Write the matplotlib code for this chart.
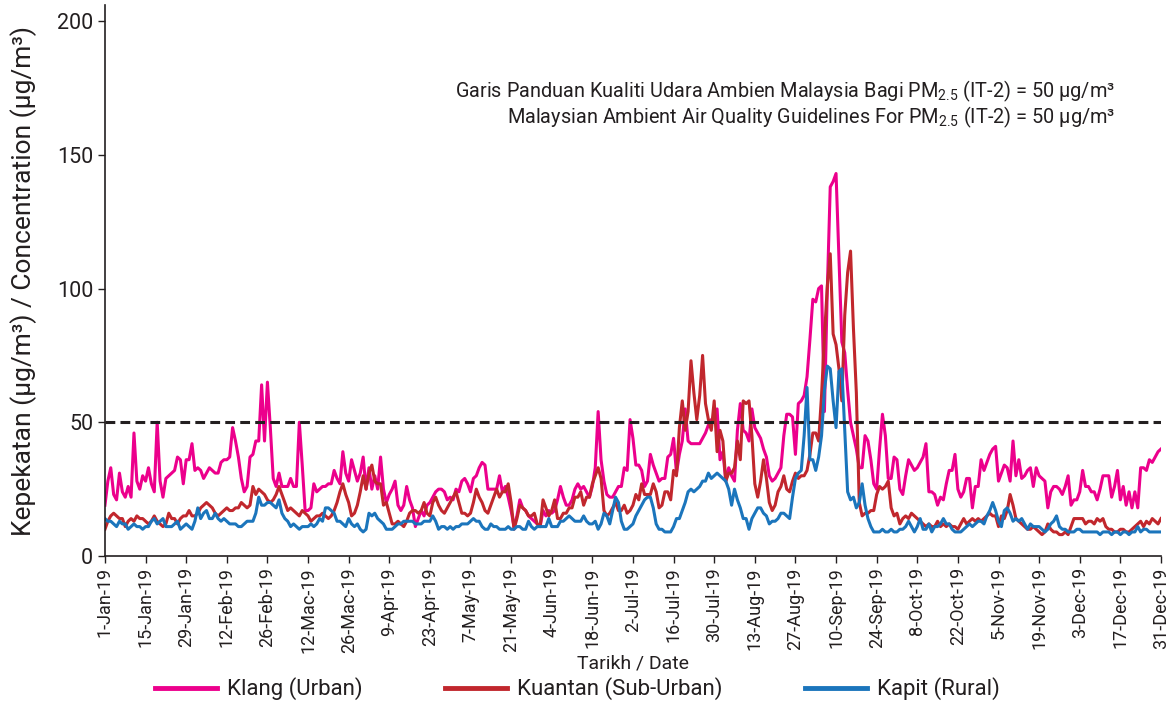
import numpy as np
import pandas as pd
import matplotlib
matplotlib.use("Agg")
import matplotlib.pyplot as plt
from matplotlib.lines import Line2D

plt.rcParams['font.family'] = ['Roboto', 'DejaVu Sans']
plt.rcParams['mathtext.fontset'] = 'custom'
plt.rcParams['mathtext.rm'] = 'Roboto'

# daily PM2.5, 1-Jan-19 .. 31-Dec-19
dates = pd.date_range('2019-01-01', '2019-12-31', freq='D')

klang = [
    19, 28, 33, 23, 21, 31, 24, 22, 26, 22,
    46, 28, 25, 30, 28, 33, 27, 24, 50, 28,
    22, 29, 30, 31, 32, 37, 36, 27, 36, 36,
    42, 32, 33, 32, 29, 31, 33, 32, 31, 31,
    35, 36, 36, 37, 48, 43, 37, 29, 24, 26,
    37, 38, 43, 43, 64, 43, 65, 48, 29, 26,
    31, 26, 26, 26, 29, 26, 26, 50, 34, 17,
    17, 18, 27, 24, 25, 26, 26, 27, 27, 32,
    29, 27, 39, 31, 28, 36, 32, 28, 31, 37,
    25, 33, 25, 30, 25, 37, 25, 20, 23, 25,
    28, 19, 17, 19, 26, 21, 18, 11, 14, 17,
    15, 19, 20, 22, 24, 25, 25, 24, 21, 22,
    21, 25, 24, 28, 29, 27, 24, 29, 30, 33,
    35, 34, 25, 25, 25, 25, 30, 24, 26, 22,
    17, 11, 15, 21, 18, 17, 15, 14, 13, 12,
    11, 17, 15, 17, 16, 17, 21, 26, 22, 19,
    19, 21, 25, 27, 25, 26, 24, 22, 26, 33,
    54, 36, 28, 23, 22, 22, 24, 26, 26, 33,
    32, 51, 44, 34, 34, 32, 26, 28, 38, 34,
    31, 28, 29, 29, 37, 38, 44, 31, 38, 43,
    55, 43, 42, 42, 42, 42, 44, 46, 49, 51,
    51, 55, 36, 39, 28, 33, 30, 28, 47, 57,
    47, 46, 43, 55, 48, 46, 44, 40, 37, 30,
    28, 29, 31, 33, 45, 53, 53, 52, 38, 57,
    58, 60, 67, 81, 96, 95, 100, 101, 54, 100,
    138, 140, 143, 111, 80, 76, 62, 50, 45, 40,
    33, 33, 45, 43, 36, 27, 25, 40, 53, 45,
    29, 29, 37, 36, 25, 23, 30, 36, 34, 32,
    33, 35, 37, 42, 24, 24, 23, 19, 22, 21,
    27, 32, 32, 38, 25, 22, 24, 29, 29, 18,
    26, 26, 36, 32, 35, 38, 40, 41, 28, 31,
    34, 33, 28, 43, 30, 36, 29, 30, 32, 33,
    26, 33, 30, 29, 28, 18, 24, 26, 26, 25,
    23, 26, 30, 19, 21, 21, 24, 32, 26, 26,
    24, 24, 21, 25, 30, 30, 30, 22, 26, 32,
    21, 26, 19, 24, 18, 24, 18, 33, 33, 32,
    36, 35, 37, 39, 40,
]

kuantan = [
    10, 13, 15, 16, 15, 14, 14, 11, 13, 14,
    13, 15, 14, 14, 13, 12, 13, 15, 13, 12,
    11, 12, 16, 14, 14, 12, 14, 15, 15, 17,
    15, 15, 16, 18, 19, 20, 19, 18, 16, 15,
    16, 17, 18, 17, 17, 18, 18, 20, 19, 18,
    19, 26, 23, 25, 24, 23, 21, 20, 21, 23,
    26, 23, 20, 17, 18, 17, 16, 15, 17, 16,
    15, 13, 14, 15, 15, 16, 15, 14, 15, 17,
    20, 24, 27, 23, 20, 15, 16, 19, 24, 30,
    25, 31, 34, 28, 27, 27, 19, 20, 16, 12,
    12, 13, 12, 11, 13, 16, 17, 17, 16, 17,
    20, 16, 15, 20, 22, 19, 17, 16, 18, 20,
    22, 24, 20, 16, 16, 15, 16, 20, 25, 22,
    20, 17, 16, 19, 22, 25, 22, 24, 24, 27,
    20, 10, 14, 19, 18, 17, 15, 15, 16, 12,
    11, 21, 18, 15, 17, 21, 14, 14, 16, 16,
    18, 18, 22, 22, 24, 19, 22, 22, 27, 30,
    33, 29, 17, 15, 16, 18, 20, 17, 17, 19,
    16, 17, 19, 23, 21, 27, 23, 23, 23, 27,
    24, 18, 19, 24, 24, 21, 32, 30, 48, 58,
    47, 54, 73, 61, 51, 60, 75, 57, 51, 47,
    58, 39, 47, 43, 28, 31, 31, 33, 43, 36,
    58, 57, 58, 45, 27, 22, 28, 36, 29, 20,
    17, 19, 24, 26, 30, 25, 24, 28, 31, 29,
    30, 30, 32, 38, 46, 46, 43, 60, 82, 101,
    113, 83, 79, 70, 58, 90, 106, 114, 85, 61,
    20, 15, 16, 16, 17, 17, 23, 26, 25, 26,
    28, 18, 15, 16, 12, 14, 15, 14, 16, 15,
    14, 13, 12, 11, 12, 11, 11, 13, 11, 12,
    11, 12, 11, 11, 10, 12, 14, 12, 13, 14,
    13, 14, 13, 14, 15, 16, 15, 15, 11, 15,
    14, 17, 23, 19, 14, 13, 12, 11, 10, 10,
    11, 10, 9, 8, 9, 12, 10, 9, 9, 8,
    8, 9, 8, 11, 14, 14, 14, 14, 12, 13,
    13, 12, 14, 13, 14, 11, 10, 10, 9, 9,
    10, 10, 9, 9, 10, 11, 12, 13, 11, 13,
    12, 14, 13, 12, 14,
]

kapit = [
    14, 13, 13, 12, 11, 13, 12, 12, 10, 11,
    12, 11, 11, 10, 11, 11, 13, 14, 12, 13,
    14, 11, 11, 11, 12, 13, 10, 11, 12, 11,
    10, 13, 18, 14, 16, 17, 14, 14, 16, 14,
    13, 14, 13, 12, 12, 12, 11, 11, 12, 13,
    13, 13, 16, 22, 19, 19, 20, 20, 19, 18,
    21, 16, 14, 13, 11, 12, 11, 10, 11, 11,
    11, 12, 11, 12, 14, 13, 18, 18, 17, 16,
    13, 13, 12, 11, 14, 12, 11, 12, 10, 9,
    10, 16, 15, 16, 14, 13, 12, 10, 10, 10,
    11, 12, 12, 13, 13, 13, 13, 12, 12, 12,
    13, 13, 13, 15, 13, 10, 11, 11, 10, 11,
    10, 11, 11, 12, 12, 12, 13, 14, 13, 13,
    11, 10, 10, 12, 11, 11, 10, 10, 10, 11,
    10, 10, 11, 11, 10, 10, 13, 11, 10, 11,
    11, 11, 11, 14, 11, 11, 11, 13, 13, 14,
    15, 14, 13, 13, 13, 15, 13, 12, 12, 13,
    10, 12, 16, 15, 12, 17, 22, 20, 13, 10,
    10, 11, 12, 15, 17, 19, 21, 22, 22, 18,
    12, 10, 10, 9, 9, 9, 11, 14, 14, 17,
    20, 24, 25, 24, 25, 26, 28, 28, 31, 29,
    30, 31, 30, 29, 28, 25, 19, 25, 21, 18,
    14, 14, 10, 14, 16, 18, 18, 16, 15, 12,
    13, 13, 14, 16, 16, 15, 14, 22, 29, 31,
    32, 45, 63, 36, 36, 32, 37, 45, 62, 71,
    70, 58, 48, 69, 70, 47, 24, 21, 22, 18,
    20, 27, 19, 14, 11, 9, 9, 9, 10, 9,
    9, 10, 9, 9, 10, 10, 11, 13, 11, 9,
    11, 14, 10, 10, 12, 9, 11, 11, 12, 14,
    12, 12, 10, 9, 9, 9, 10, 11, 12, 11,
    12, 13, 13, 12, 15, 17, 20, 17, 13, 11,
    17, 18, 16, 13, 14, 13, 14, 12, 10, 12,
    11, 11, 11, 10, 9, 10, 12, 13, 15, 11,
    10, 10, 9, 9, 9, 10, 10, 9, 9, 9,
    9, 9, 9, 8, 9, 9, 9, 8, 9, 9,
    8, 9, 9, 8, 9, 9, 11, 9, 10, 10,
    9, 9, 9, 9, 9,
]

tick_labels = ['1-Jan-19', '15-Jan-19', '29-Jan-19', '12-Feb-19', '26-Feb-19',
               '12-Mac-19', '26-Mac-19', '9-Apr-19', '23-Apr-19', '7-May-19',
               '21-May-19', '4-Jun-19', '18-Jun-19', '2-Jul-19', '16-Jul-19',
               '30-Jul-19', '13-Aug-19', '27-Aug-19', '10-Sep-19', '24-Sep-19',
               '8-Oct-19', '22-Oct-19', '5-Nov-19', '19-Nov-19', '3-Dec-19',
               '17-Dec-19', '31-Dec-19']
guideline = 50

names = ['Klang (Urban)', 'Kuantan (Sub-Urban)', 'Kapit (Rural)']
colors = ['#EC008C', '#C1272D', '#1B75BC']
txt = '#231F20'

fig = plt.figure(figsize=(11.74, 7.04), dpi=100)
ax = fig.add_axes([0.0894, 0.2102, 0.8995, 0.7827])

for vals, name, c in zip([klang, kuantan, kapit], names, colors):
    ax.plot(dates, vals, color=c, lw=2.2, label=name)

ax.axhline(guideline, color=txt, lw=2.2, ls=(0, (3.2, 1.7)))

ax.set_xlim(dates[0], dates[-1])
ax.set_ylim(0, 206)
ax.set_xticks(dates[::14])
ax.set_xticklabels(tick_labels, rotation=90, fontsize=13, color=txt)
ax.set_yticks([0, 50, 100, 150, 200])
ax.tick_params(axis='y', labelsize=15.5, colors=txt, length=5, width=1)
ax.tick_params(axis='x', colors=txt, length=5, width=1, pad=3)
for s in ['top', 'right']:
    ax.spines[s].set_visible(False)
for s in ['left', 'bottom']:
    ax.spines[s].set_color(txt)
    ax.spines[s].set_linewidth(1.2)

ax.set_ylabel('Kepekatan (µg/m³) / Concentration (µg/m³)', fontsize=19, color=txt)
ax.yaxis.set_label_coords(-0.064, 0.5)
ax.set_xlabel('Tarikh / Date', fontsize=14, color=txt)
ax.xaxis.set_label_coords(0.5, -0.178)

fig.text(1115 / 1174, 1 - 91 / 704,
         r'Garis Panduan Kualiti Udara Ambien Malaysia Bagi PM$_\mathrm{2.5}$ (IT-2) = 50 µg/m³',
         ha='right', va='center', fontsize=14.3, color=txt)
fig.text(1115 / 1174, 1 - 117 / 704,
         r'Malaysian Ambient Air Quality Guidelines For PM$_\mathrm{2.5}$ (IT-2) = 50 µg/m³',
         ha='right', va='center', fontsize=14.3, color=txt)

handles = [Line2D([], [], color=c, lw=3.5) for c in colors]
fig.legend(handles, names, loc='center left', bbox_to_anchor=(155 / 1174, 1 - 689 / 704),
           ncol=3, frameon=False, fontsize=16, handlelength=2.8, handletextpad=0.45,
           columnspacing=3.7, borderpad=0, borderaxespad=0, labelcolor=txt)

fig.savefig('out.png', dpi=100)
